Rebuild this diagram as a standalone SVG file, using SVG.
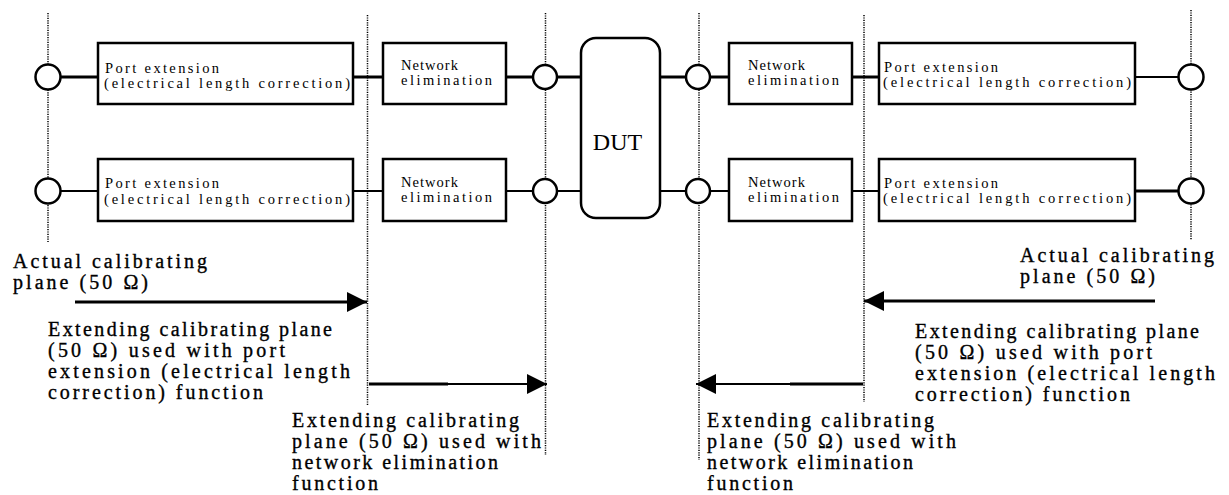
<svg xmlns="http://www.w3.org/2000/svg" width="1229" height="495" viewBox="0 0 1229 495">
<style>
  .box{fill:#fff;stroke:#000;stroke-width:2.5}
  .port{fill:#fff;stroke:#000;stroke-width:2.5}
  .dot{fill:none;stroke:#000;stroke-width:1.5;stroke-dasharray:1.2 1.2}
  .w1{stroke:#000;stroke-width:3;fill:none}
  .w2{stroke:#000;stroke-width:2;fill:none}
  .small{font-family:"Liberation Serif","Times New Roman",serif;font-size:14.5px;fill:#000}
  .lab{font-family:"Liberation Serif","Times New Roman",serif;font-size:20px;fill:#000;stroke:#000;stroke-width:0.35}
  .dut{font-family:"Liberation Serif","Times New Roman",serif;font-size:24px;fill:#000}
</style>
<defs>
  <marker id="ah" markerUnits="userSpaceOnUse" markerWidth="21" markerHeight="21" refX="20" refY="10" orient="auto">
    <path d="M0,0 L20,10 L0,20 Z" fill="#000"/>
  </marker>
</defs>
<rect width="1229" height="495" fill="#fff"/>

<g id="planes">
  <line class="dot" x1="48" y1="13" x2="48" y2="242"/>
  <line class="dot" x1="367.5" y1="15" x2="367.5" y2="406"/>
  <line class="dot" x1="545.5" y1="13" x2="545.5" y2="455"/>
  <line class="dot" x1="699" y1="13" x2="699" y2="460"/>
  <line class="dot" x1="864" y1="15" x2="864" y2="402"/>
  <line class="dot" x1="1191" y1="10" x2="1191" y2="240"/>
</g>

<g id="connectors">
  <!-- top row -->
  <line class="w1" x1="60" y1="77" x2="98" y2="77"/>
  <line class="w1" x1="353" y1="77" x2="383" y2="77"/>
  <line class="w1" x1="506" y1="77" x2="533" y2="77"/>
  <line class="w1" x1="557" y1="77" x2="581" y2="77"/>
  <line class="w1" x1="660" y1="77" x2="686" y2="77"/>
  <line class="w1" x1="710" y1="77" x2="729" y2="77"/>
  <line class="w1" x1="852" y1="77" x2="879" y2="77"/>
  <line class="w2" x1="1135" y1="77" x2="1179" y2="77"/>
  <!-- bottom row -->
  <line class="w2" x1="60" y1="191" x2="98" y2="191"/>
  <line class="w2" x1="353" y1="191" x2="383" y2="191"/>
  <line class="w2" x1="506" y1="191" x2="533" y2="191"/>
  <line class="w2" x1="557" y1="191" x2="581" y2="191"/>
  <line class="w2" x1="660" y1="191" x2="686" y2="191"/>
  <line class="w2" x1="710" y1="191" x2="729" y2="191"/>
  <line class="w2" x1="852" y1="191" x2="879" y2="191"/>
  <line class="w1" x1="1135" y1="191" x2="1179" y2="191"/>
  <!-- calibration plane arrows -->
  <line class="w1" x1="75" y1="302" x2="367" y2="302" marker-end="url(#ah)"/>
  <line class="w2" x1="369" y1="384" x2="547" y2="384" marker-end="url(#ah)"/>
  <line class="w1" x1="369" y1="384" x2="448" y2="384"/>
  <line class="w1" x1="1155" y1="301" x2="864" y2="301" marker-end="url(#ah)"/>
  <line class="w2" x1="863" y1="384" x2="696" y2="384" marker-end="url(#ah)"/>
  <line class="w1" x1="863" y1="384" x2="790" y2="384"/>
</g>

<g id="port-L1">
  <circle class="port" cx="48" cy="77" r="12.5"/>
</g>
<g id="port-L2">
  <circle class="port" cx="48" cy="191" r="12.5"/>
</g>
<g id="pe-L1">
  <rect class="box" x="98" y="43" width="255" height="61"/>
  <text class="small" x="105" y="73" textLength="114" lengthAdjust="spacing">Port extension</text>
  <text class="small" x="104" y="88" textLength="246" lengthAdjust="spacing">(electrical length correction)</text>
</g>
<g id="pe-L2">
  <rect class="box" x="98" y="159" width="255" height="62"/>
  <text class="small" x="105" y="188" textLength="114" lengthAdjust="spacing">Port extension</text>
  <text class="small" x="104" y="204" textLength="246" lengthAdjust="spacing">(electrical length correction)</text>
</g>
<g id="ne-L1">
  <rect class="box" x="383" y="43" width="123" height="61"/>
  <text class="small" x="401" y="70" textLength="57" lengthAdjust="spacing">Network</text>
  <text class="small" x="401" y="85" textLength="91" lengthAdjust="spacing">elimination</text>
</g>
<g id="ne-L2">
  <rect class="box" x="383" y="159" width="123" height="62"/>
  <text class="small" x="401" y="187" textLength="57" lengthAdjust="spacing">Network</text>
  <text class="small" x="401" y="202" textLength="91" lengthAdjust="spacing">elimination</text>
</g>
<g id="port-ML1">
  <circle class="port" cx="545" cy="77" r="12"/>
</g>
<g id="port-ML2">
  <circle class="port" cx="545" cy="191" r="12"/>
</g>
<g id="dut">
  <rect class="box" x="581" y="38" width="79" height="180" rx="15" ry="15"/>
  <text class="dut" x="617.5" y="150" text-anchor="middle">DUT</text>
</g>
<g id="port-MR1">
  <circle class="port" cx="698" cy="77" r="12"/>
</g>
<g id="port-MR2">
  <circle class="port" cx="698" cy="191" r="12"/>
</g>
<g id="ne-R1">
  <rect class="box" x="729" y="43" width="123" height="61"/>
  <text class="small" x="748" y="70" textLength="57" lengthAdjust="spacing">Network</text>
  <text class="small" x="748" y="85" textLength="91" lengthAdjust="spacing">elimination</text>
</g>
<g id="ne-R2">
  <rect class="box" x="729" y="159" width="123" height="62"/>
  <text class="small" x="748" y="187" textLength="57" lengthAdjust="spacing">Network</text>
  <text class="small" x="748" y="202" textLength="91" lengthAdjust="spacing">elimination</text>
</g>
<g id="pe-R1">
  <rect class="box" x="879" y="43" width="256" height="61"/>
  <text class="small" x="884" y="72" textLength="114" lengthAdjust="spacing">Port extension</text>
  <text class="small" x="883" y="87" textLength="248" lengthAdjust="spacing">(electrical length correction)</text>
</g>
<g id="pe-R2">
  <rect class="box" x="879" y="159" width="256" height="62"/>
  <text class="small" x="884" y="188" textLength="114" lengthAdjust="spacing">Port extension</text>
  <text class="small" x="883" y="203" textLength="248" lengthAdjust="spacing">(electrical length correction)</text>
</g>
<g id="port-R1">
  <circle class="port" cx="1191" cy="77" r="12.5"/>
</g>
<g id="port-R2">
  <circle class="port" cx="1191" cy="191" r="12.5"/>
</g>

<g id="labels">
  <text class="lab" x="13" y="268" textLength="194" lengthAdjust="spacing">Actual calibrating</text>
  <text class="lab" x="13" y="289" textLength="135" lengthAdjust="spacing">plane (50 Ω)</text>
  <text class="lab" x="48" y="336" textLength="284" lengthAdjust="spacing">Extending calibrating plane</text>
  <text class="lab" x="48" y="357" textLength="237" lengthAdjust="spacing">(50 Ω) used with port</text>
  <text class="lab" x="48" y="378" textLength="302" lengthAdjust="spacing">extension (electrical length</text>
  <text class="lab" x="48" y="399" textLength="215" lengthAdjust="spacing">correction) function</text>

  <text class="lab" x="292" y="427" textLength="227" lengthAdjust="spacing">Extending calibrating</text>
  <text class="lab" x="292" y="448" textLength="249" lengthAdjust="spacing">plane (50 Ω) used with</text>
  <text class="lab" x="292" y="469" textLength="206" lengthAdjust="spacing">network elimination</text>
  <text class="lab" x="292" y="490" textLength="86" lengthAdjust="spacing">function</text>

  <text class="lab" x="1020" y="262" textLength="194" lengthAdjust="spacing">Actual calibrating</text>
  <text class="lab" x="1020" y="283" textLength="135" lengthAdjust="spacing">plane (50 Ω)</text>
  <text class="lab" x="915" y="338" textLength="284" lengthAdjust="spacing">Extending calibrating plane</text>
  <text class="lab" x="915" y="359" textLength="237" lengthAdjust="spacing">(50 Ω) used with port</text>
  <text class="lab" x="915" y="380" textLength="300" lengthAdjust="spacing">extension (electrical length</text>
  <text class="lab" x="915" y="401" textLength="215" lengthAdjust="spacing">correction) function</text>

  <text class="lab" x="707" y="427" textLength="227" lengthAdjust="spacing">Extending calibrating</text>
  <text class="lab" x="707" y="448" textLength="249" lengthAdjust="spacing">plane (50 Ω) used with</text>
  <text class="lab" x="707" y="469" textLength="206" lengthAdjust="spacing">network elimination</text>
  <text class="lab" x="707" y="490" textLength="86" lengthAdjust="spacing">function</text>
</g>
</svg>
